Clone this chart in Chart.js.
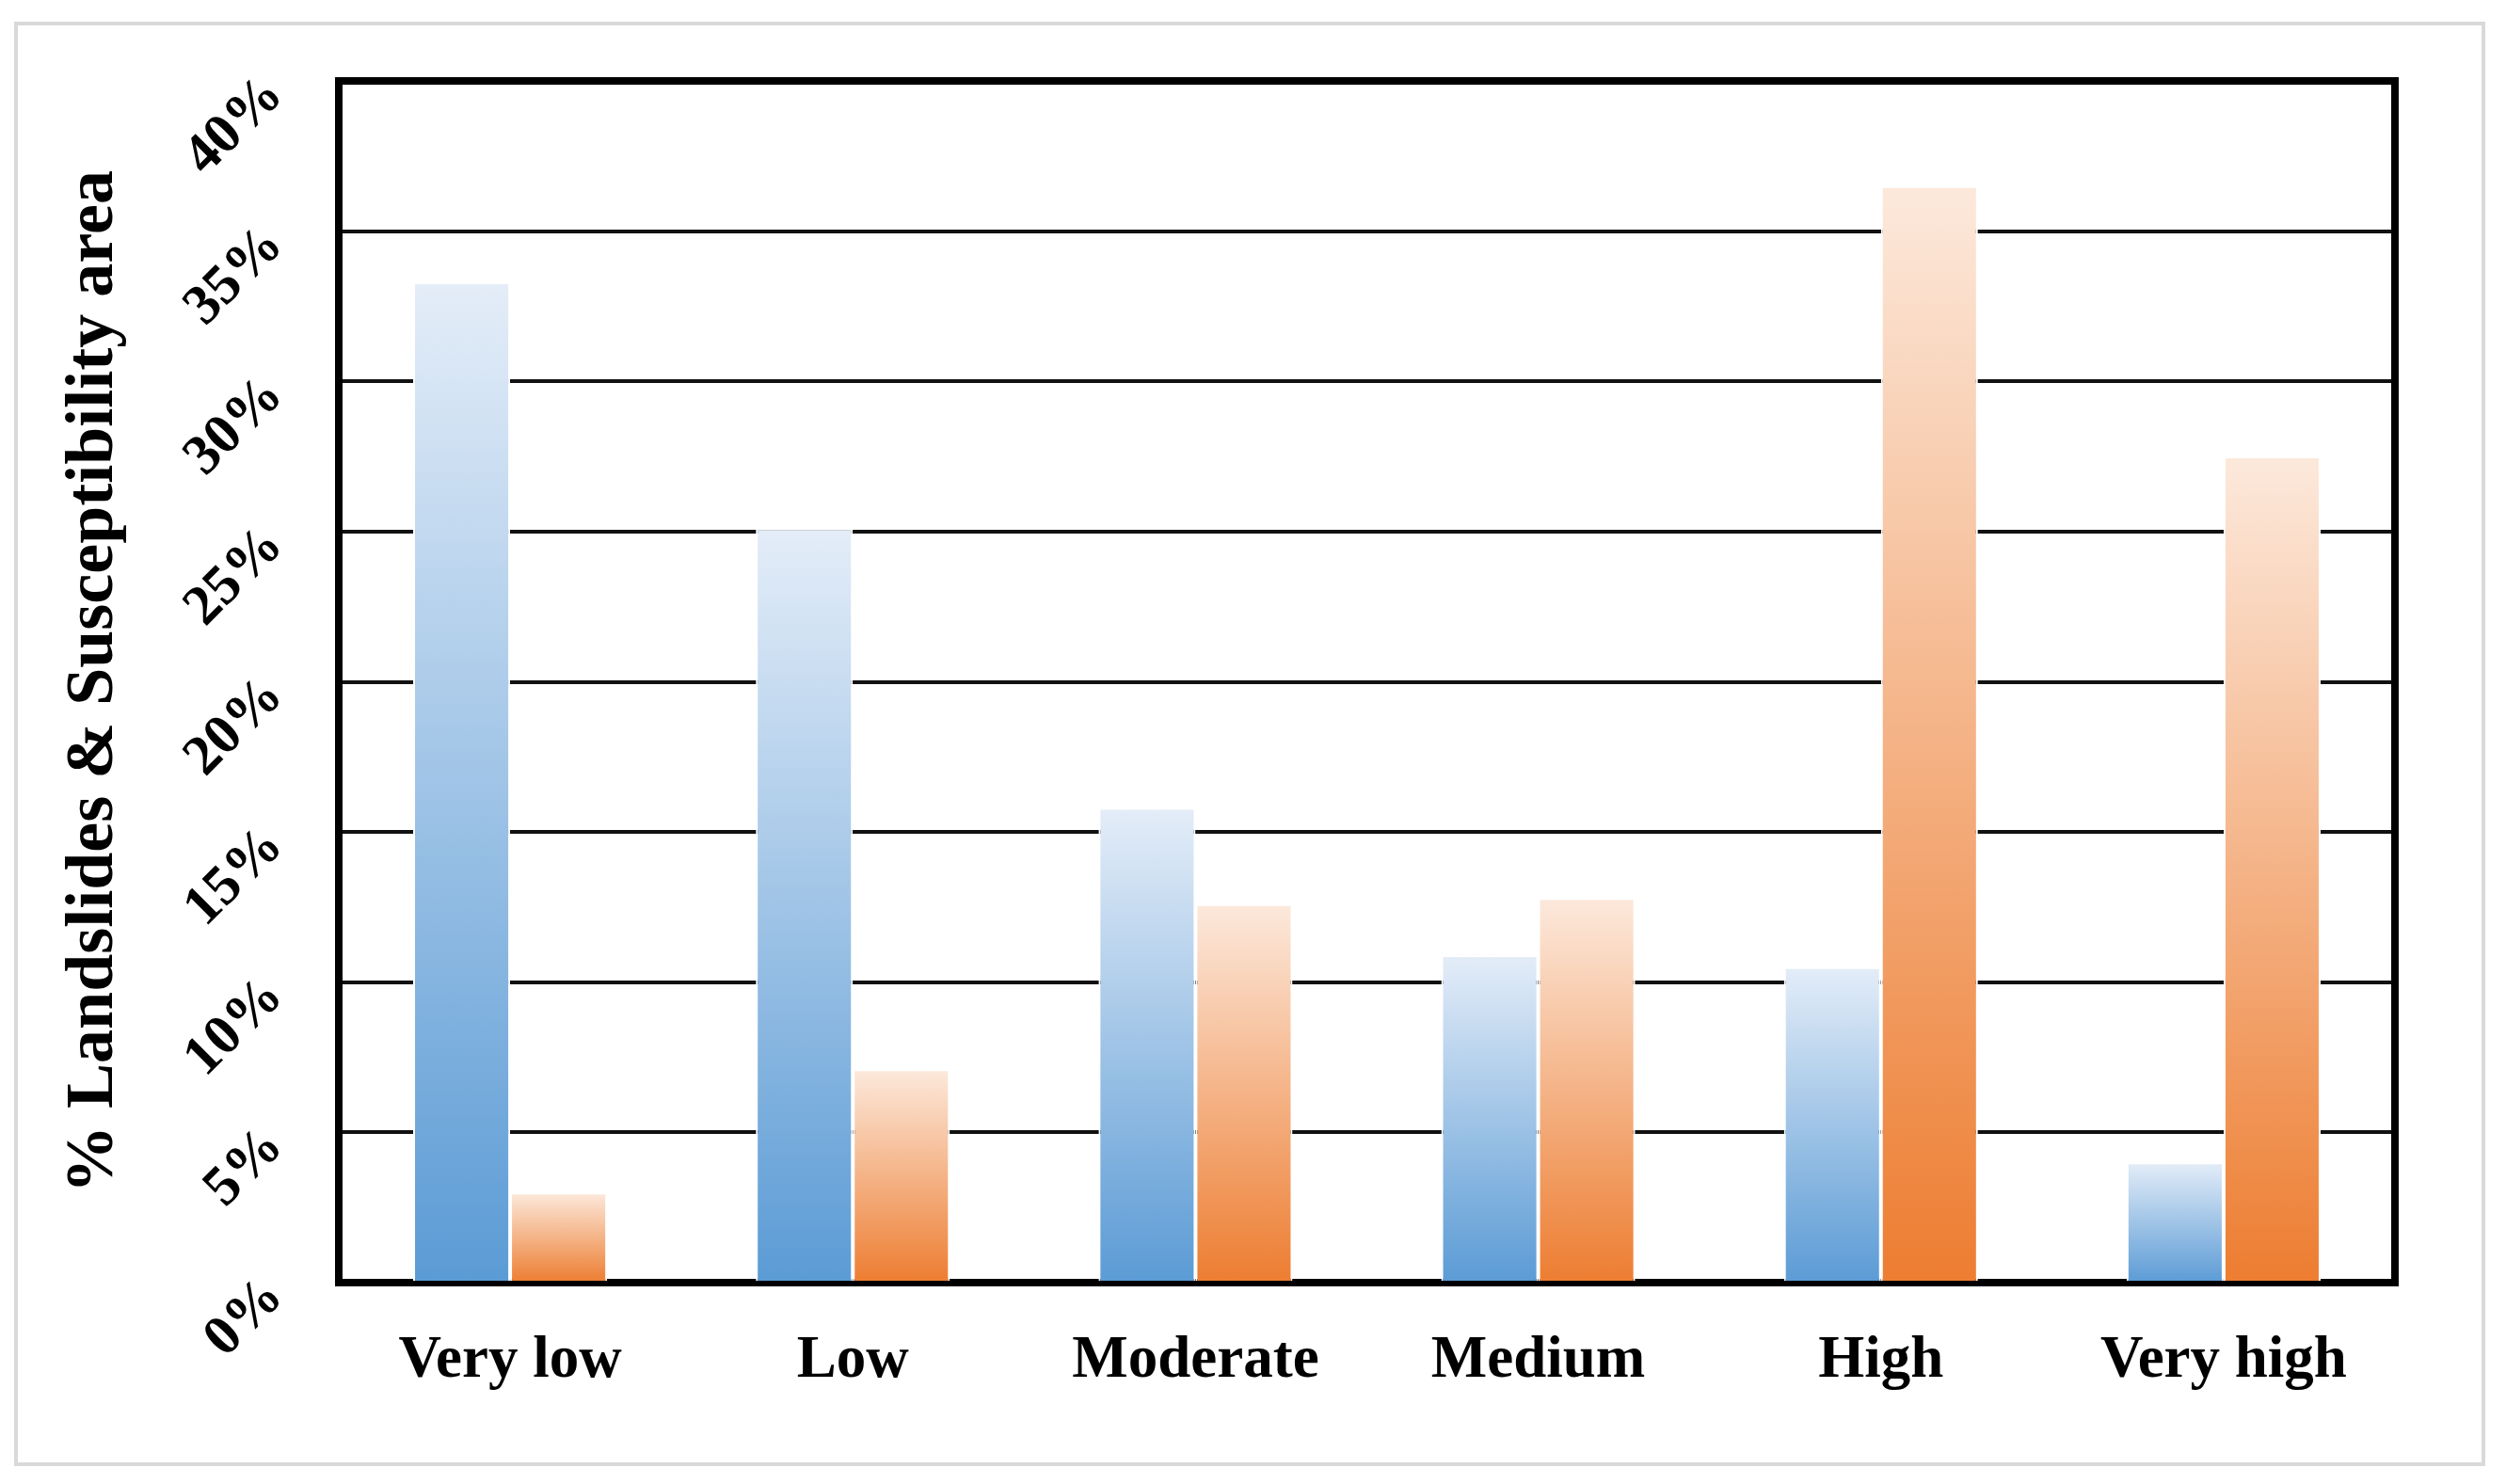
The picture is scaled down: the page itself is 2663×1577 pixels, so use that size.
<!DOCTYPE html>
<html lang="en">
<head>
    <meta charset="UTF-8">
    <title>Landslides &amp; Susceptibility area</title>
    <script src="https://cdn.jsdelivr.net/npm/chart.js@4.4.1/dist/chart.umd.min.js"></script>
    <style>
        html, body { margin: 0; padding: 0; background: #ffffff; }
        #chartCanvas { position: absolute; left: 0; top: 0; }
        /* light grey outer frame around the whole figure */
        .outer-frame {
            position: absolute;
            left: 15px; top: 23px;
            width: 2626px; height: 1535px;
            box-sizing: border-box;
            border: 4px solid #d9d9d9;
            pointer-events: none;
        }
    </style>
</head>
<body>

    <canvas id="chartCanvas" width="2663" height="1577"></canvas>
    <div class="outer-frame"></div>

    <script>
        // Susceptibility classes
        const categories = ['Very low', 'Low', 'Moderate', 'Medium', 'High', 'Very high'];

        // % values
        const areaValues = [33.3, 25.1, 15.8, 10.9, 10.5, 4.0];       // blue bars
        const landslideValues = [3.0, 7.1, 12.6, 12.8, 36.5, 27.5];   // orange bars

        // y axis ticks
        const tickValues = [0, 5, 10, 15, 20, 25, 30, 35, 40];
        const tickLabels = ['0%', '5%', '10%', '15%', '20%', '25%', '30%', '35%', '40%'];

        const serif = '"Liberation Serif", "Times New Roman", serif';

        // per-bar vertical gradient, light at the top of each bar
        function barFill(topColor, bottomColor) {
            return function(ctx) {
                const chart = ctx.chart;
                if (!chart.chartArea || ctx.type !== 'data') return bottomColor;
                const y = chart.scales.y;
                const yTop = y.getPixelForValue(ctx.raw);
                const yBase = y.getPixelForValue(0);
                const g = chart.ctx.createLinearGradient(0, yTop, 0, yBase);
                g.addColorStop(0, topColor);
                g.addColorStop(1, bottomColor);
                return g;
            };
        }

        // thick black frame round the plot area, drawn under the bars
        const plotFrame = {
            id: 'plotFrame',
            beforeDatasetsDraw(chart) {
                const { ctx, chartArea: a } = chart;
                ctx.save();
                ctx.strokeStyle = '#000000';
                ctx.lineWidth = 8;
                ctx.strokeRect(a.left, a.top, a.right - a.left, a.bottom - a.top);
                ctx.restore();
            }
        };

        // diagonal y tick labels (Chart.js does not rotate labels on vertical axes)
        const diagonalTicks = {
            id: 'diagonalTicks',
            afterDraw(chart) {
                const { ctx } = chart;
                const y = chart.scales.y;
                ctx.save();
                ctx.fillStyle = '#000000';
                ctx.font = 'bold 60px ' + serif;
                ctx.textAlign = 'right';
                ctx.textBaseline = 'middle';
                tickValues.forEach((v, i) => {
                    ctx.save();
                    ctx.translate(292, y.getPixelForValue(v) + 6);
                    ctx.rotate(-Math.PI / 4);
                    ctx.fillText(tickLabels[i], 0, 0);
                    ctx.restore();
                });
                ctx.restore();
            }
        };

        new Chart(document.getElementById('chartCanvas'), {
            type: 'bar',
            data: {
                labels: categories,
                datasets: [
                    {
                        label: 'Susceptibility area',
                        data: areaValues,
                        backgroundColor: barFill('#e4edf8', '#5b9bd5'),
                        borderColor: '#ffffff',
                        borderWidth: 2,
                        barPercentage: 1.0,
                        categoryPercentage: 0.566
                    },
                    {
                        label: 'Landslides',
                        data: landslideValues,
                        backgroundColor: barFill('#fce9dc', '#ed7d31'),
                        borderColor: '#ffffff',
                        borderWidth: 2,
                        barPercentage: 1.0,
                        categoryPercentage: 0.566
                    }
                ]
            },
            options: {
                responsive: false,
                animation: false,
                events: [],
                layout: { padding: { left: 0, top: 86, right: 118, bottom: 0 } },
                plugins: {
                    legend: { display: false },
                    tooltip: { enabled: false }
                },
                scales: {
                    x: {
                        grid: { display: false },
                        border: { display: false },
                        ticks: {
                            color: '#000000',
                            padding: 38,
                            maxRotation: 0,
                            font: { family: serif, size: 63, weight: 'bold' }
                        },
                        afterFit(scale) { scale.height = 214; }
                    },
                    y: {
                        min: 0,
                        max: 40,
                        grid: { color: '#111111', lineWidth: 4, drawTicks: false },
                        border: { display: false },
                        ticks: { stepSize: 5, display: false },
                        title: {
                            display: true,
                            text: '% Landslides & Susceptibility area',
                            color: '#000000',
                            padding: { top: 57, bottom: 0 },
                            font: { family: serif, size: 72, weight: 'bold' }
                        },
                        afterFit(scale) { scale.width = 360; }
                    }
                }
            },
            plugins: [plotFrame, diagonalTicks]
        });
    </script>

</body>
</html>
